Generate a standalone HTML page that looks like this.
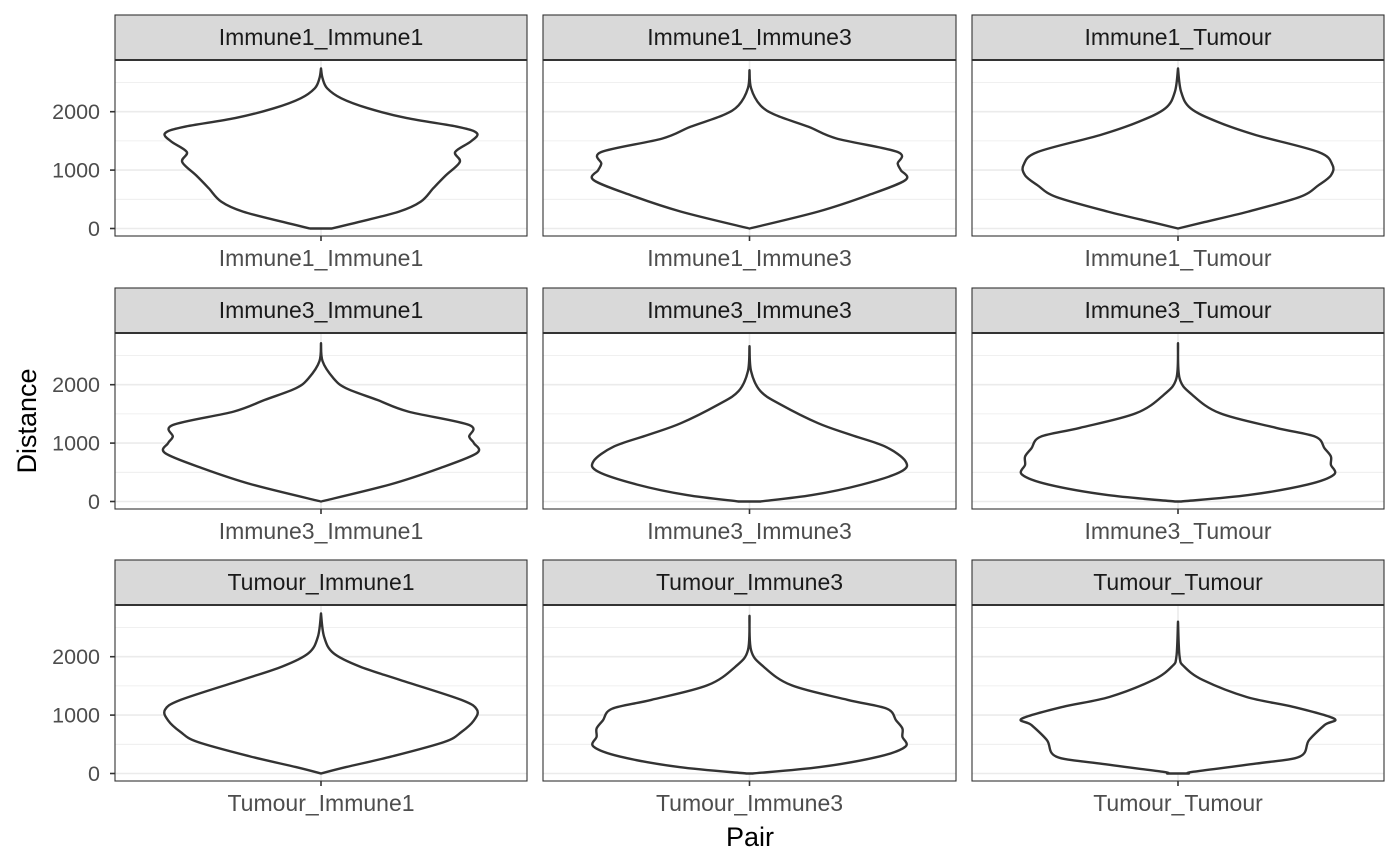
<!DOCTYPE html>
<html><head><meta charset="utf-8"><style>
body{margin:0;background:#fff;}
svg{display:block;font-family:"Liberation Sans",sans-serif;}
</style></head><body>
<svg id="chart" width="1400" height="865"></svg>
<script>
const panelNames = ["Immune1_Immune1","Immune1_Immune3","Immune1_Tumour","Immune3_Immune1","Immune3_Immune3","Immune3_Tumour","Tumour_Immune1","Tumour_Immune3","Tumour_Tumour"];
const yTicks = [0,1000,2000];
const yMinor = [500,1500,2500];
// violin profiles: distances and relative half-widths
const dist1 = [2740,2570,2400,2230,2060,1890,1740,1630,1490,1310,1140,910,690,460,290,110,0];
const wid1  = [0,0.01,0.04,0.13,0.30,0.55,0.88,1.0,0.96,0.86,0.89,0.80,0.72,0.64,0.50,0.24,0.07];
const dist2 = [2710,2400,2110,1940,1740,1540,1310,1110,1000,830,570,290,0];
const wid2  = [0,0.01,0.07,0.17,0.38,0.56,0.95,0.95,0.97,1.0,0.76,0.44,0];
const dist3 = [2740,2340,2060,1830,1600,1310,1090,910,740,540,290,110,0];
const wid3  = [0,0.02,0.08,0.25,0.50,0.90,0.99,0.98,0.90,0.78,0.45,0.17,0];
const dist4 = [2710,2400,2110,1940,1740,1540,1310,1110,1000,830,570,290,0];
const wid4  = [0,0.01,0.08,0.16,0.36,0.56,0.95,0.95,0.98,1.0,0.76,0.44,0];
const dist5 = [2660,2230,1890,1660,1340,1140,940,690,510,290,110,0];
const wid5  = [0,0.01,0.07,0.20,0.44,0.65,0.87,1.0,0.97,0.72,0.40,0.07];
const dist6 = [2710,2110,1830,1510,1260,1110,910,770,630,460,290,110,0];
const wid6  = [0,0.01,0.09,0.27,0.63,0.88,0.94,0.98,0.98,1.0,0.83,0.45,0.02];
const dist7 = [2740,2340,2060,1830,1600,1260,1090,910,710,540,290,110,0];
const wid7  = [0,0.02,0.08,0.25,0.51,0.90,1.0,0.98,0.90,0.79,0.45,0.16,0];
const dist8 = [2700,2110,1830,1510,1260,1110,910,770,630,460,290,110,0];
const wid8  = [0,0.01,0.09,0.27,0.63,0.88,0.94,0.98,0.98,1.0,0.83,0.45,0.02];
const dist9 = [2600,2000,1830,1600,1310,1140,940,830,570,290,170,30,0];
const wid9  = [0,0.01,0.04,0.16,0.44,0.74,1.0,0.94,0.84,0.78,0.5,0.10,0.07];

const dists=[dist1,dist2,dist3,dist4,dist5,dist6,dist7,dist8,dist9];
const wids=[wid1,wid2,wid3,wid4,wid5,wid6,wid7,wid8,wid9];

const NS="http://www.w3.org/2000/svg";
const svg=document.getElementById('chart');
function mk(tag,attrs,parent){const e=document.createElementNS(NS,tag);for(const k in attrs)e.setAttribute(k,attrs[k]);(parent||svg).appendChild(e);return e;}
const colX=[[115,527],[543,956],[972,1384]];
const rowTop=[15,288,560];
const STRIP=45, PH=176, MAXW=156;
function smooth(pts){
  let d=`M${pts[0][0]},${pts[0][1]}`;
  for(let i=0;i<pts.length-1;i++){
    const p0=pts[Math.max(i-1,0)],p1=pts[i],p2=pts[i+1],p3=pts[Math.min(i+2,pts.length-1)];
    const c1=[p1[0]+(p2[0]-p0[0])/6,p1[1]+(p2[1]-p0[1])/6];
    const c2=[p2[0]-(p3[0]-p1[0])/6,p2[1]-(p3[1]-p1[1])/6];
    d+=` C${c1[0].toFixed(1)},${c1[1].toFixed(1)} ${c2[0].toFixed(1)},${c2[1].toFixed(1)} ${p2[0].toFixed(1)},${p2[1].toFixed(1)}`;
  }
  return d;
}
for(let i=0;i<9;i++){
  const r=Math.floor(i/3),c=i%3;
  const x0=colX[c][0],x1=colX[c][1],cx=(x0+x1)/2;
  const st=rowTop[r], pt=st+STRIP, pb=pt+PH;
  const zeroY=pt+168.5;
  const yS=v=>zeroY-v*0.0584;
  const g=mk('g',{});
  
  
  mk('rect',{x:x0,y:pt,width:x1-x0,height:PH,fill:'#fff'},g);
  yMinor.forEach(v=>{const l=mk('line',{x1:x0,x2:x1,y1:yS(v),y2:yS(v),stroke:'#ebebeb','stroke-width':0.8},g);});
  yTicks.forEach(v=>{const l=mk('line',{x1:x0,x2:x1,y1:yS(v),y2:yS(v),stroke:'#ebebeb','stroke-width':1.6},g);});
  mk('line',{x1:cx,x2:cx,y1:pt,y2:pb,stroke:'#ebebeb','stroke-width':1.6},g);
  const ds=dists[i],ws=wids[i];
  const left=ds.map((d,k)=>[cx-ws[k]*MAXW,yS(d)]);
  const right=ds.map((d,k)=>[cx+ws[k]*MAXW,yS(d)]).reverse();
  let path=smooth(left)+' L'+smooth(right).slice(1)+' Z';
  const v=mk('path',{d:path,fill:'#fff',stroke:'#333','stroke-width':2.4,'stroke-linejoin':'round'},g);
  
  
  mk('rect',{x:x0,y:pt,width:x1-x0,height:PH,fill:'none',stroke:'#333','stroke-width':1.1},g);
  const s=mk('rect',{x:x0,y:st,width:x1-x0,height:STRIP,fill:'#d9d9d9',stroke:'#333','stroke-width':1.1},g);
  
  
  mk('line',{x1:x0,x2:x1,y1:pt,y2:pt,stroke:'#333','stroke-width':2},g);
  const stt=mk('text',{x:cx,y:st+30,'font-size':23,fill:'#1a1a1a','text-anchor':'middle'},g);
  stt.textContent=panelNames[i];
  
  
  mk('line',{x1:cx,x2:cx,y1:pb,y2:pb+5,stroke:'#333','stroke-width':1.6},g);
  const xl=mk('text',{x:cx,y:pb+30,'font-size':23,fill:'#4d4d4d','text-anchor':'middle'},g);
  xl.textContent=panelNames[i];
  
  
  if(c===0){
    yTicks.forEach(t=>{
      mk('line',{x1:x0-5,x2:x0,y1:yS(t),y2:yS(t),stroke:'#333','stroke-width':1.6},g);
      const tl=mk('text',{x:x0-15,y:yS(t)+7.5,'font-size':21.5,fill:'#4d4d4d','text-anchor':'end'},g);
      tl.textContent=t;
      
      
    });
  }
}
const xt=mk('text',{x:750,y:846,'font-size':27,fill:'#000','text-anchor':'middle'});
xt.textContent='Pair';


const yt=mk('text',{x:0,y:0,'font-size':27,fill:'#000','text-anchor':'middle',transform:'translate(36,421) rotate(-90)'});
yt.textContent='Distance';


</script>
</body></html>
